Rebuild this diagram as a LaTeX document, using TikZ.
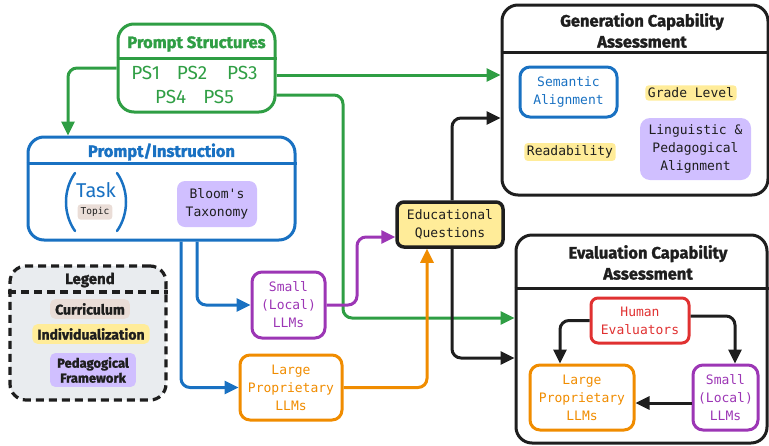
\documentclass[tikz,border=0pt]{standalone}
\usepackage{fontspec}
\setmainfont{DejaVu Sans Mono}
\newfontfamily\headfont{Fira Sans}[BoldFeatures={FakeBold=1.6}]
\usetikzlibrary{positioning, calc, arrows.meta}
\definecolor{Green}{HTML}{2f9e44}
\definecolor{Blue}{HTML}{1971c2}
\definecolor{Purple}{HTML}{9c36b5}
\definecolor{Orange}{HTML}{f08c00}
\definecolor{Red}{HTML}{e03131}
\definecolor{Ink}{HTML}{1e1e1e}
\definecolor{Yellow}{HTML}{ffec99}
\definecolor{Lilac}{HTML}{d0bfff}
\definecolor{Beige}{HTML}{eaddd7}
\definecolor{Fog}{HTML}{e9ecef}

\begin{document}
\begin{tikzpicture}[
    x=1pt, y=-1pt,
    >={Triangle[length=14pt, width=13pt]},
    frameBox/.style={draw, rectangle, rounded corners=16pt, line width=3pt, inner sep=0pt},
    llmBox/.style={draw, rectangle, rounded corners=10pt, line width=3pt, align=center, inner sep=0pt, font=\fontsize{13}{18}\selectfont},
    headText/.style={font=\headfont\bfseries\fontsize{16.5}{21}\selectfont, align=center, text=Ink},
    monoText/.style={font=\fontsize{13}{18}\selectfont, align=center, text=Ink},
    tagKey/.style={rectangle, rounded corners=3pt, inner sep=2.5pt, monoText},
    legendKey/.style={rectangle, rounded corners=5pt, inner xsep=5pt, inner ysep=4pt, font=\headfont\bfseries\fontsize{14}{16}\selectfont, align=center, text=Ink},
    flow/.style={->, line width=3pt, rounded corners=9pt},
  ]
  \useasboundingbox (0,0) rectangle (769,445);

  % prompt structures
  \node[frameBox, draw=Green, minimum width=157, minimum height=88] (psBox) at (196.5,68) {};
  \draw[Green, line width=3pt] (psBox.west |- 0,58) -- (psBox.east |- 0,58);
  \node[headText, text=Green] (psTitle) at (196.5,44) {Prompt Structures};
  \node[text=Green, font=\headfont\fontsize{19}{24}\selectfont, align=center] (psList) at (194.5,85)
    {PS1\hspace{17pt}PS2\hspace{20pt}PS3\\PS4\hspace{17pt}PS5};

  % prompt / instruction
  \node[frameBox, draw=Blue, minimum width=267, minimum height=103] (piBox) at (161.5,188.5) {};
  \draw[Blue, line width=3pt] (piBox.west |- 0,163) -- (piBox.east |- 0,163);
  \node[headText, text=Blue] (piTitle) at (161.5,152) {Prompt/Instruction};
  \node[text=Blue, font=\headfont\fontsize{20}{22}\selectfont] (task) at (96,190) {Task};
  \node[tagKey, fill=Beige, font=\fontsize{9.5}{10}\selectfont, inner xsep=3pt, inner ysep=3pt] (topic) at (95,212) {Topic};
  \draw[Blue, line width=2.5pt, line cap=round] (75,173) .. controls (63,190) and (63,214) .. (75,231);
  \draw[Blue, line width=2.5pt, line cap=round] (117,173) .. controls (129,190) and (129,214) .. (117,231);
  \node[tagKey, fill=Lilac, rounded corners=8pt, minimum width=80, minimum height=46] (bloom) at (217,204) {Bloom\textquotesingle s\\Taxonomy};

  % legend
  \node[frameBox, draw=Ink, fill=Fog, dash pattern=on 8pt off 5pt, line width=3.2pt, minimum width=156, minimum height=134] (legendBox) at (88,333) {};
  \draw[Ink, line width=3.2pt, dash pattern=on 8pt off 5pt] (legendBox.west |- 0,292) -- (legendBox.east |- 0,292);
  \node[legendKey, font=\headfont\bfseries\fontsize{15}{16}\selectfont] (legendTitle) at (90,280) {Legend};
  \node[legendKey, fill=Beige] (curriculum) at (90,309) {Curriculum};
  \node[legendKey, fill=Yellow] (individual) at (91,334) {Individualization};
  \node[legendKey, fill=Lilac, inner xsep=7pt, font=\headfont\bfseries\fontsize{13}{15}\selectfont] (pedFrame) at (93,370) {Pedagogical\\Framework};

  % models
  \node[llmBox, draw=Purple, text=Purple, minimum width=73, minimum height=66] (smallLLM) at (288.5,305) {Small\\(Local)\\LLMs};
  \node[llmBox, draw=Orange, text=Orange, minimum width=102, minimum height=65] (largeLLM) at (291,387.5) {Large\\Proprietary\\LLMs};
  \node[llmBox, draw=Ink, fill=Yellow, rounded corners=7pt, line width=3.5pt, text=Ink, minimum width=106, minimum height=45] (eduQ) at (450,224.5) {Educational\\Questions};

  % generation capability
  \node[frameBox, draw=Ink, minimum width=266, minimum height=190] (genBox) at (635,100) {};
  \draw[Ink, line width=3pt] (genBox.west |- 0,52) -- (genBox.east |- 0,52);
  \node[headText] (genTitle) at (642,30.5) {Generation Capability\\Assessment};
  \node[llmBox, draw=Blue, text=Blue, minimum width=97, minimum height=50] (semantic) at (568.5,92) {Semantic\\Alignment};
  \node[tagKey, fill=Yellow] (grade) at (691,93) {Grade Level};
  \node[tagKey, fill=Yellow] (readability) at (570,152) {Readability};
  \node[tagKey, fill=Lilac, rounded corners=10pt, minimum width=111, minimum height=62] (linguistic) at (695.5,149) {Linguistic \&\\Pedagogical\\Alignment};

  % evaluation capability
  \node[frameBox, draw=Ink, minimum width=251, minimum height=208] (evalBox) at (641.5,339) {};
  \draw[Ink, line width=3pt] (evalBox.west |- 0,288) -- (evalBox.east |- 0,288);
  \node[headText] (evalTitle) at (648,262.5) {Evaluation Capability\\Assessment};
  \node[llmBox, draw=Red, text=Red, minimum width=98, minimum height=45, rounded corners=7pt] (human) at (640,320.5) {Human\\Evaluators};
  \node[llmBox, draw=Orange, text=Orange, minimum width=104, minimum height=65] (largeEval) at (582,397.5) {Large\\Proprietary\\LLMs};
  \node[llmBox, draw=Purple, text=Purple, minimum width=65, minimum height=65] (smallEval) at (725.5,397.5) {Small\\(Local)\\LLMs};

  % lines
  \draw[flow, Green] (psBox.west) -| (piBox.north -| 68,0);
  \draw[flow, Green] (psBox.east |- 0,75) -- (genBox.west |- 0,75);
  \coordinate (greenBend) at (343,318);
  \draw[flow, Green] (psBox.east |- 0,95) -| (greenBend) -- (evalBox.west |- greenBend);
  \draw[flow, Blue] (piBox.south -| 197,0) |- (smallLLM.west);
  \draw[flow, Blue] (piBox.south -| 181,0) |- (largeLLM.west);
  \coordinate (purpleBend) at (357,237);
  \draw[flow, Purple] (smallLLM.east) -| (purpleBend) -- (eduQ.west |- purpleBend);
  \draw[flow, Orange] (largeLLM.east) -| (eduQ.south -| 427,0);
  \draw[flow, Ink] (eduQ.north -| 452,0) |- (genBox.west |- 0,118);
  \draw[flow, Ink] (eduQ.south -| 452,0) |- (evalBox.west |- 0,358);
  \draw[flow, Ink] (human.west) -| (largeEval.north -| 560,0);
  \draw[flow, Ink] (human.east |- 0,316) -| (smallEval.north -| 735,0);
  \draw[flow, Ink] (smallEval.west |- 0,403) -- (largeEval.east |- 0,403);
\end{tikzpicture}
\end{document}
